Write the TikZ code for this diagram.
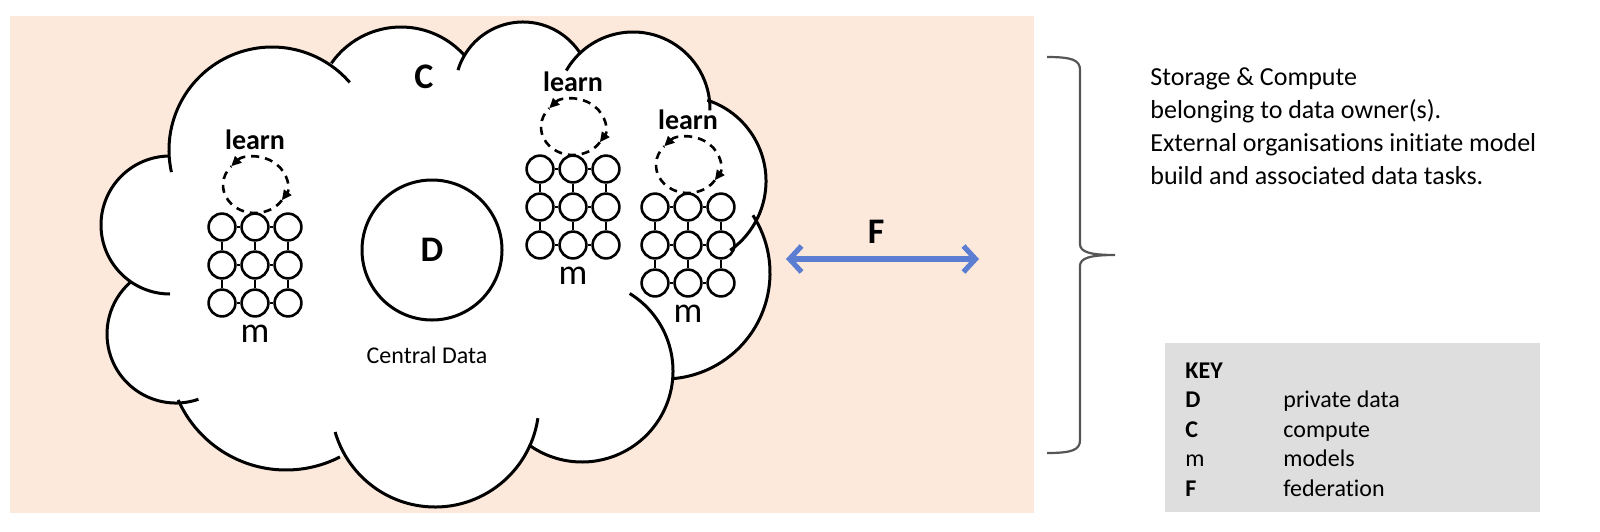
\documentclass[tikz,border=0pt]{standalone}
\usepackage{fontspec}
\setmainfont{Carlito}[Ligatures=NoCommon,RawFeature=-liga]
\usetikzlibrary{arrows.meta,calc}

\definecolor{peach}{RGB}{252,233,219}
\definecolor{keygray}{RGB}{222,222,222}
\definecolor{fedblue}{RGB}{91,125,210}
\definecolor{bracegray}{RGB}{85,85,85}

\tikzset{
  unit/.style={circle,draw,line width=1.3pt,minimum size=13.4pt,inner sep=0pt},
  link/.style={line width=1.3pt},
  loopline/.style={line width=1.3pt,dash pattern=on 4pt off 3pt},
  cloudline/.style={line width=1.5pt},
  datanode/.style={circle,draw,line width=1.5pt,minimum size=70pt,inner sep=0pt,font=\fontsize{18}{20}\selectfont\bfseries},
  bigbold/.style={font=\fontsize{18}{20}\selectfont\bfseries,inner sep=0pt,anchor=base},
  learnlbl/.style={font=\fontsize{14}{16}\selectfont\bfseries,inner sep=0pt,anchor=base},
  mlbl/.style={font=\fontsize{18}{20}\selectfont,inner sep=0pt,anchor=base},
  caption/.style={font=\fontsize{12}{14}\selectfont,inner sep=0pt,anchor=base},
  note/.style={font=\fontsize{13}{16}\selectfont,inner sep=0pt,anchor=base west},
  keytxt/.style={font=\fontsize{12}{14}\selectfont,inner sep=0pt,anchor=base west},
  fedarrow/.style={fedblue,line width=2.6pt,{Straight Barb[length=6pt,width=13pt]}-{Straight Barb[length=6pt,width=13pt]}},
}

% one model: 3x3 units, learn loop above, m below; #2,#3 = centre of the grid
\newcommand{\model}[3]{%
  \foreach \row in {1,2,3} {
    \foreach \col in {1,2,3} {\node[unit] (#1\row\col) at ({#2+33*(\col-2)},{#3+38*(\row-2)}) {};}
    \draw[link] (#1\row1)--(#1\row2)--(#1\row3);
  }
  \foreach \col in {1,2,3} {\draw[link] (#11\col)--(#12\col)--(#13\col);}
  \coordinate (#1o) at (#2,#3-80);
  \draw[loopline,{Triangle[length=5pt,width=4.5pt]}-{Triangle[length=5pt,width=4.5pt]}] ($(#1o)+(222:32 and 28)$) arc[start angle=222,end angle=393,x radius=32,y radius=28];
  \draw[loopline] ($(#1o)+(33:32 and 28)$) arc[start angle=33,end angle=222,x radius=32,y radius=28];
  \node[learnlbl] (#1learn) at (#2,#3-116) {learn};
  \node[mlbl] (#1m) at (#2,#3+77) {m};
}

\begin{document}
\begin{tikzpicture}[x=0.5pt,y=-0.5pt]
  \useasboundingbox (0,0) rectangle (1600,531);
  \fill[peach] (10,16) rectangle (1034,513);

  % cloud: centre x / centre y / radius / start / end of each bump
  \def\bumps{170/225/69/90/270, 272/150/103/167.6/319, 401/112/85/215/318, 523/90/68/197/327,
    633/109/77/210/361, 681/181/85/288/414.6, 664/273/106/327/445, 582/371/91/301.6/485.8,
    435/403/104/8.4/163.8, 286/352/118/62.8/156, 176/334/69/71/228.5}
  \fill[white] \foreach \cx/\cy/\rr/\aa/\bb in \bumps {(\cx,\cy) circle[radius=\rr]};
  \fill[white] (170,225)--(272,150)--(401,112)--(523,90)--(633,109)--(681,181)--(664,273)--(582,371)--(435,403)--(286,352)--(176,334)--cycle;
  \foreach \cx/\cy/\rr/\aa/\bb in \bumps
    \draw[cloudline] ($(\cx,\cy)+(\aa:\rr)$) arc[start angle=\aa,end angle=\bb,radius=\rr];

  \node[bigbold] (compute) at (424,88) {C};
  \node[datanode] (data) at (432,250) {D};
  \node[caption] (central) at (427,363) {Central Data};

  \model{a}{255}{265}
  \model{b}{573}{207}
  \model{c}{688}{245}

  % federation
  \coordinate (fedl) at (786,259);
  \coordinate (fedr) at (979,259);
  \draw[fedarrow] (fedl)--(fedr);
  \node[bigbold] (fed) at (876,243) {F};

  \draw[bracegray,line width=1.1pt] (1047,57) .. controls (1072,57) and (1080,60) .. (1080,70) -- (1080,244)
    .. controls (1080,252) and (1090,255) .. (1115,255) .. controls (1090,255) and (1080,258) .. (1080,266)
    -- (1080,440) .. controls (1080,450) and (1072,453) .. (1047,453);

  \foreach \t [count=\i from 0] in {Storage \& Compute, belonging to data owner(s)., External organisations initiate model, build and associated data tasks.}
    \node[note] (note\i) at (1150,85+33*\i) {\t};

  % key
  \fill[keygray] (1165,343) rectangle (1540,512);
  \node[keytxt,font=\fontsize{12}{14}\selectfont\bfseries] (keyhead) at (1185,378) {KEY};
  \foreach \k/\v [count=\i] in {\textbf{D}/private data, \textbf{C}/compute, m/models, \textbf{F}/federation} {
    \node[keytxt] (key\i) at (1185,378+29.5*\i) {\k};
    \node[keytxt] (val\i) at (1283,378+29.5*\i) {\v};
  }
\end{tikzpicture}
\end{document}
